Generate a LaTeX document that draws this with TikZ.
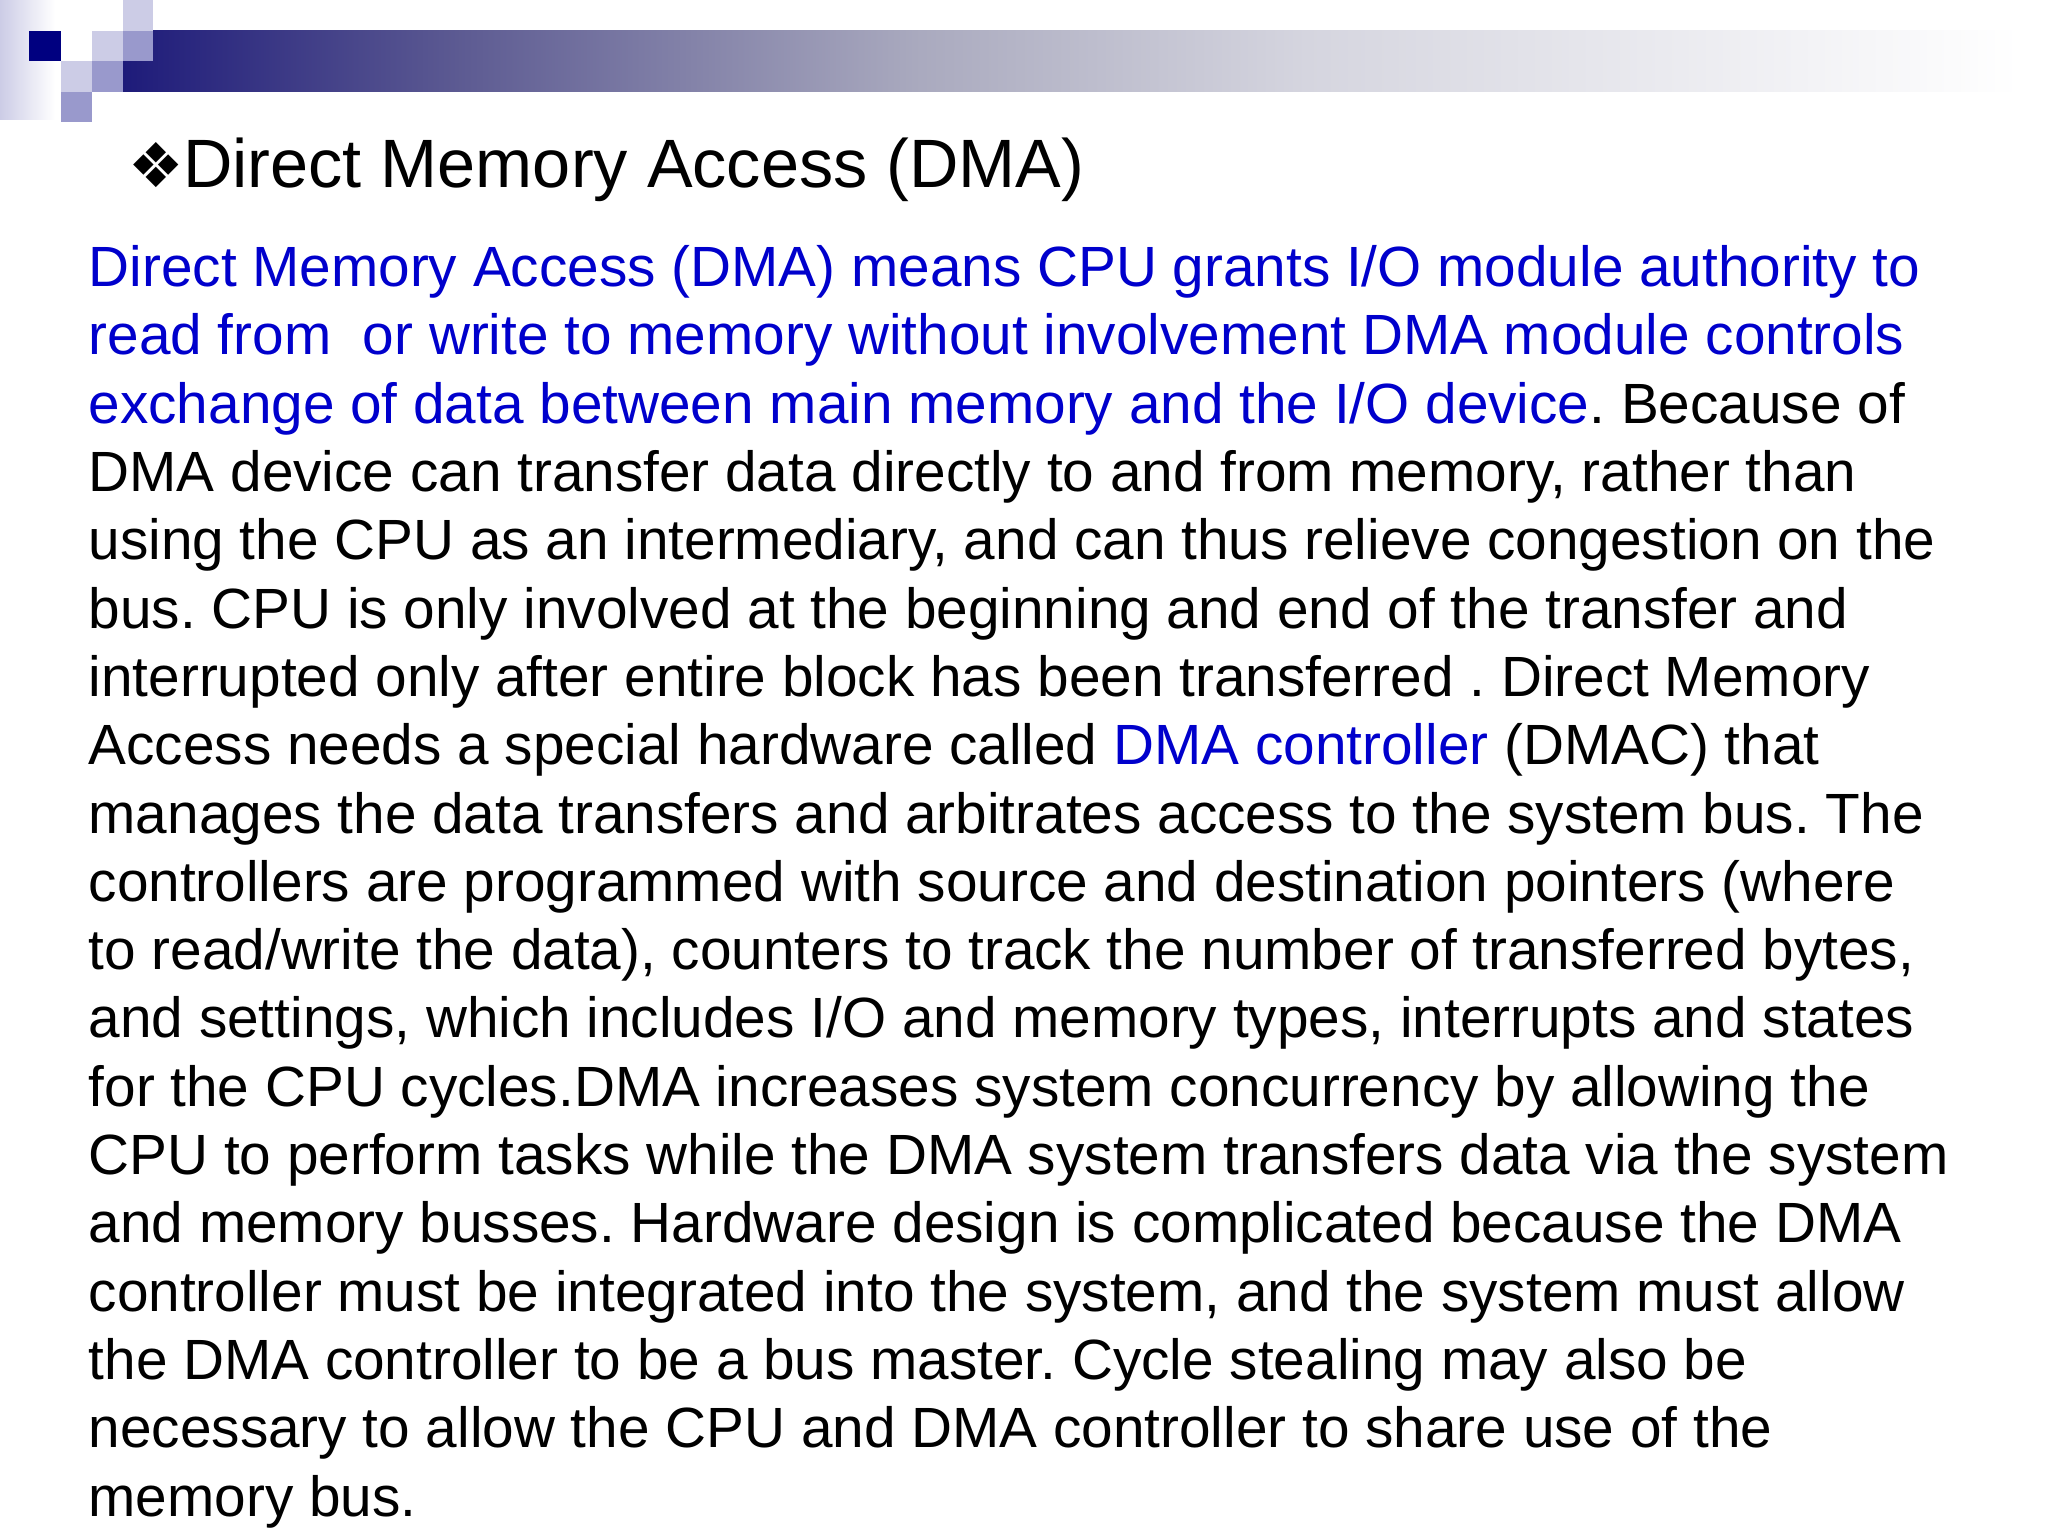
\documentclass[tikz,border=0pt]{standalone}
\usepackage{fontspec}
\setmainfont{Liberation Sans}
\newfontfamily\symfont{DejaVu Sans}
\frenchspacing
\definecolor{dmablue}{RGB}{0,0,204}
\definecolor{navysq}{RGB}{0,0,128}
\definecolor{lightsq}{RGB}{204,204,230}
\definecolor{midsq}{RGB}{153,153,204}
\definecolor{barA}{RGB}{30,27,122}
\definecolor{barB}{RGB}{92,90,146}
\definecolor{barC}{RGB}{169,169,190}
\definecolor{barD}{RGB}{213,213,223}
\begin{document}
\begin{tikzpicture}[line cap=round,line join=round,x=1.0cm,y=1.0cm,
    bodyline/.style={anchor=base west,inner sep=0pt,font=\fontsize{16.14pt}{19.43pt}\selectfont},
    titleline/.style={anchor=base west,inner sep=0pt,font=\fontsize{19.47pt}{23pt}\selectfont}]
				\useasboundingbox (0,0) rectangle (20.48,15.36);
				\fill[white] (0,0) rectangle (20.48,15.36);
				% header band
				\shade[left color=lightsq,right color=white] (0,15.36) rectangle (0.55,14.16);
				\shade[left color=barA,right color=barB] (1.23,15.05) rectangle (4.57,14.44);
				\shade[left color=barB,right color=barC] (4.56,15.05) rectangle (9.14,14.44);
				\shade[left color=barC,right color=barD] (9.13,15.05) rectangle (13.06,14.44);
				\shade[left color=barD,right color=white] (13.05,15.05) rectangle (20.2,14.44);
				\fill[navysq] (0.29,15.05) rectangle (0.61,14.75);
				\fill[lightsq] (1.23,15.36) rectangle (1.53,15.05);
				\fill[lightsq] (0.92,15.05) rectangle (1.23,14.75);
				\fill[midsq] (1.23,15.05) rectangle (1.53,14.75);
				\fill[lightsq] (0.61,14.75) rectangle (0.92,14.44);
				\fill[midsq] (0.92,14.75) rectangle (1.23,14.44);
				\fill[midsq] (0.61,14.44) rectangle (0.92,14.14);
				% title
				\node[titleline,font=\symfont\fontsize{17.6pt}{20pt}\selectfont] (bullet) at (1.28,13.48) {❖};
				\node[titleline] (title) at (1.826,13.48) {Direct Memory Access (DMA)};
				% body
				\node[bodyline,dmablue] (l1) at (0.88,12.493) {Direct Memory Access (DMA) means CPU grants I/O module authority to};
				\node[bodyline,dmablue] (l2) at (0.88,11.810) {read from\ \ or write to memory without involvement DMA module controls};
				\node[bodyline] (l3) at (0.88,11.127) {\textcolor{dmablue}{exchange of data between main memory and the I/O device}. Because of};
				\node[bodyline] (l4) at (0.88,10.444) {DMA device can transfer data directly to and from memory, rather than};
				\node[bodyline] (l5) at (0.88,9.761) {using the CPU as an intermediary, and can thus relieve congestion on the};
				\node[bodyline] (l6) at (0.88,9.078) {bus. CPU is only involved at the beginning and end of the transfer and};
				\node[bodyline] (l7) at (0.88,8.395) {interrupted only after entire block has been transferred . Direct Memory};
				\node[bodyline] (l8) at (0.88,7.712) {Access needs a special hardware called \textcolor{dmablue}{DMA controller} (DMAC) that};
				\node[bodyline] (l9) at (0.88,7.029) {manages the data transfers and arbitrates access to the system bus. The};
				\node[bodyline] (l10) at (0.88,6.346) {controllers are programmed with source and destination pointers (where};
				\node[bodyline] (l11) at (0.88,5.663) {to read/write the data), counters to track the number of transferred bytes,};
				\node[bodyline] (l12) at (0.88,4.980) {and settings, which includes I/O and memory types, interrupts and states};
				\node[bodyline] (l13) at (0.88,4.297) {for the CPU cycles.DMA increases system concurrency by allowing the};
				\node[bodyline] (l14) at (0.88,3.614) {CPU to perform tasks while the DMA system transfers data via the system};
				\node[bodyline] (l15) at (0.88,2.931) {and memory busses. Hardware design is complicated because the DMA};
				\node[bodyline] (l16) at (0.88,2.248) {controller must be integrated into the system, and the system must allow};
				\node[bodyline] (l17) at (0.88,1.565) {the DMA controller to be a bus master. Cycle stealing may also be};
				\node[bodyline] (l18) at (0.88,0.882) {necessary to allow the CPU and DMA controller to share use of the};
				\node[bodyline] (l19) at (0.88,0.199) {memory bus.};
			\end{tikzpicture}
\end{document}
